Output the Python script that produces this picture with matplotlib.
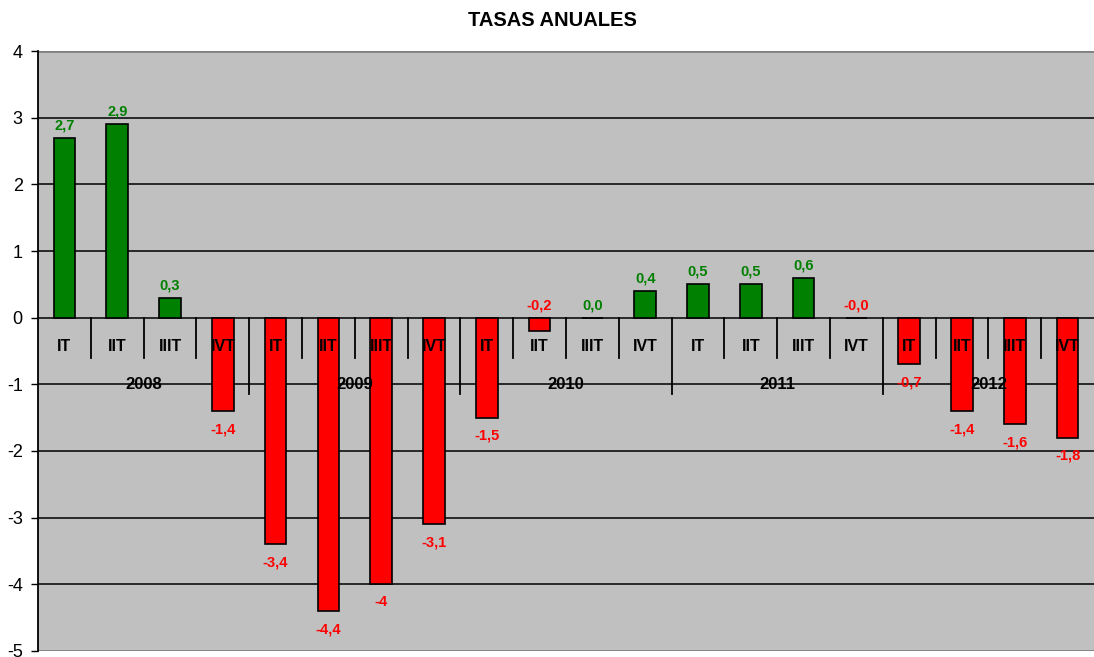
import matplotlib
matplotlib.use("Agg")
import matplotlib.pyplot as plt
import numpy as np

years = ["2008", "2009", "2010", "2011", "2012"]
quarters = ["IT", "IIT", "IIIT", "IVT"]
values = [2.7, 2.9, 0.3, -1.4,
          -3.4, -4.4, -4.0, -3.1,
          -1.5, -0.2, 0.0, 0.4,
          0.5, 0.5, 0.6, -0.0,
          -0.7, -1.4, -1.6, -1.8]
value_labels = ["2,7", "2,9", "0,3", "-1,4",
                "-3,4", "-4,4", "-4", "-3,1",
                "-1,5", "-0,2", "0,0", "0,4",
                "0,5", "0,5", "0,6", "-0,0",
                "-0,7", "-1,4", "-1,6", "-1,8"]
negative_flags = [False, False, False, True,
                  True, True, True, True,
                  True, True, False, False,
                  False, False, False, True,
                  True, True, True, True]

GREEN = "#008000"
RED = "#FF0000"

plt.rcParams['font.family'] = ['Liberation Sans', 'DejaVu Sans']

W, H = 1094, 657
fig = plt.figure(figsize=(W / 100, H / 100), dpi=100)
left, right, top, bottom = 38, 1094, 51, 651
ax = fig.add_axes([left / W, 1 - bottom / H, (right - left) / W, (bottom - top) / H])
ax.set_facecolor("#C0C0C0")

n = len(values)
x = np.arange(n)
colors = [RED if neg else GREEN for neg in negative_flags]
ax.bar(x, values, width=0.41, color=colors, edgecolor="black", linewidth=1.2, zorder=3)

ax.set_xlim(-0.5, n - 0.5)
ax.set_ylim(-5, 4)
ax.set_yticks(np.arange(-5, 5))
ax.set_yticklabels([str(v) for v in range(-5, 5)], fontsize=13)
ax.tick_params(axis='y', length=5, width=1, direction='out', pad=6)
ax.set_xticks([])

for yv in range(-4, 4):
    ax.axhline(yv, color="black", linewidth=1.1, zorder=1)
ax.axhline(4, color="#808080", linewidth=2, zorder=1)
ax.axhline(-5, color="#808080", linewidth=2, zorder=1)

for s in ["top", "right", "bottom"]:
    ax.spines[s].set_visible(False)
ax.spines["left"].set_linewidth(1.3)

# value labels
for xi, v, lab, neg in zip(x, values, value_labels, negative_flags):
    c = RED if neg else GREEN
    if v > -0.5:
        ax.annotate(lab, (xi, max(v, 0)), xytext=(0, 4), textcoords="offset points",
                    ha="center", va="bottom", color=c, fontsize=10.5, fontweight="bold", zorder=5)
    else:
        ax.annotate(lab, (xi, v), xytext=(0, -8), textcoords="offset points",
                    ha="center", va="top", color=c, fontsize=10.5, fontweight="bold", zorder=5)

# category axis: quarter labels and separators
for i in range(n):
    ax.text(i, -0.44, quarters[i % 4], ha="center", va="center", fontsize=11.5,
            fontweight="bold", color="black", zorder=6)
for i in range(1, n):
    b = i - 0.5
    if i % 4 == 0:
        ax.plot([b, b], [0, -1.15], color="black", linewidth=1.3, zorder=4)
    else:
        ax.plot([b, b], [0, -0.6], color="black", linewidth=1.3, zorder=4)
for j, yr in enumerate(years):
    ax.text(j * 4 + 1.5, -1.0, yr, ha="center", va="center", fontsize=12,
            fontweight="bold", color="black", zorder=6)

fig.text(552 / W, 1 - 21 / H, "TASAS ANUALES", ha="center", va="center",
         fontsize=14.5, fontweight="bold")

fig.savefig("out.png", dpi=100)
